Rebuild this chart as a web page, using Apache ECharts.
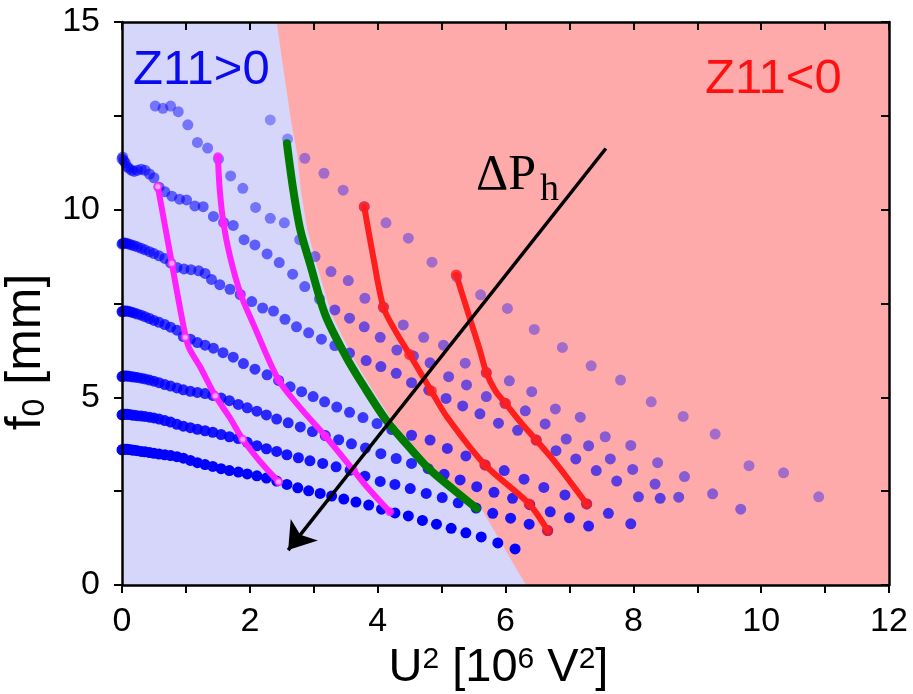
<!DOCTYPE html>
<html>
<head>
<meta charset="utf-8">
<script src="https://cdn.jsdelivr.net/npm/echarts@6.0.0/dist/echarts.min.js"></script>
<style>
  html, body { margin: 0; padding: 0; background: #fff; }
  #chart { width: 913px; height: 694px; }
</style>
</head>
<body>
<div id="chart"></div>
<script>
// measured curves, x = U^2 [10^6 V^2], y = f0 [mm]
const dotsA = [[0,3.60],[0.01,3.61],[0.03,3.62],[0.05,3.62],[0.08,3.62],[0.11,3.61],[0.15,3.60],[0.19,3.59],[0.24,3.58],[0.30,3.56],[0.36,3.55],[0.43,3.53],[0.50,3.51],[0.58,3.49],[0.67,3.47],[0.76,3.45],[0.86,3.42],[0.96,3.38],[1.07,3.32],[1.18,3.26],[1.30,3.21],[1.42,3.16],[1.55,3.10],[1.68,3.05],[1.82,3.01],[1.96,2.96],[2.11,2.91],[2.26,2.85],[2.42,2.77],[2.58,2.68],[2.75,2.59],[2.92,2.51],[3.10,2.44],[3.28,2.37],[3.47,2.29],[3.66,2.21],[3.86,2.13],[4.06,2.02],[4.27,1.92],[4.48,1.84],[4.70,1.72],[4.92,1.62],[5.15,1.51],[5.38,1.39],[5.62,1.28],[5.88,1.12],[6.15,0.96]];
const dotsB = [[0,4.53],[0.01,4.54],[0.03,4.55],[0.05,4.55],[0.08,4.55],[0.11,4.54],[0.15,4.53],[0.19,4.52],[0.24,4.51],[0.30,4.50],[0.36,4.49],[0.43,4.47],[0.50,4.45],[0.58,4.42],[0.67,4.38],[0.76,4.34],[0.86,4.28],[0.96,4.23],[1.07,4.19],[1.18,4.15],[1.30,4.11],[1.42,4.07],[1.55,4.01],[1.68,3.95],[1.82,3.90],[1.96,3.80],[2.11,3.71],[2.26,3.63],[2.42,3.56],[2.58,3.47],[2.76,3.39],[2.94,3.31],[3.14,3.24],[3.35,3.15],[3.57,3.06],[3.80,2.90],[4.04,2.76],[4.27,2.68],[4.51,2.57],[4.76,2.44],[5.01,2.33],[5.26,2.19],[5.54,2.05],[5.80,1.91],[6.08,1.78],[6.37,1.62],[6.66,1.45]];
const dotsC = [[0,5.55],[0.01,5.56],[0.03,5.57],[0.05,5.57],[0.08,5.57],[0.11,5.56],[0.15,5.55],[0.19,5.54],[0.24,5.53],[0.30,5.51],[0.36,5.49],[0.43,5.46],[0.50,5.43],[0.58,5.39],[0.67,5.34],[0.76,5.30],[0.86,5.25],[0.96,5.20],[1.07,5.16],[1.18,5.13],[1.30,5.10],[1.42,5.05],[1.55,4.98],[1.68,4.91],[1.82,4.81],[1.96,4.72],[2.11,4.63],[2.26,4.53],[2.42,4.42],[2.60,4.32],[2.79,4.21],[2.98,4.09],[3.18,3.98],[3.39,3.87],[3.59,3.76],[3.81,3.65],[4.05,3.50],[4.29,3.37],[4.53,3.24],[4.79,3.10],[5.04,2.95],[5.29,2.80],[5.55,2.62],[5.82,2.47],[6.11,2.31],[6.38,2.14],[6.70,1.95],[7.00,1.79],[7.30,1.57]];
const dotsD = [[0,7.28],[0.01,7.29],[0.03,7.30],[0.05,7.30],[0.08,7.30],[0.11,7.29],[0.15,7.27],[0.19,7.25],[0.24,7.22],[0.30,7.19],[0.36,7.15],[0.43,7.10],[0.50,7.05],[0.58,7.00],[0.67,6.94],[0.76,6.87],[0.86,6.79],[0.96,6.62],[1.07,6.55],[1.18,6.46],[1.30,6.39],[1.43,6.31],[1.58,6.19],[1.74,6.07],[1.90,5.90],[2.08,5.75],[2.27,5.60],[2.45,5.45],[2.63,5.28],[2.81,5.15],[2.99,5.02],[3.17,4.88],[3.36,4.74],[3.56,4.60],[3.77,4.46],[3.99,4.30],[4.22,4.14],[4.53,3.99],[4.82,3.86],[5.09,3.64],[5.38,3.44],[5.68,3.20],[5.98,3.05],[6.29,2.82],[6.60,2.60],[6.93,2.40],[7.27,2.16],[7.61,1.91],[7.96,1.63]];
const dotsE = [[0,9.08],[0.01,9.10],[0.03,9.11],[0.05,9.11],[0.08,9.10],[0.11,9.08],[0.15,9.06],[0.19,9.04],[0.24,9.01],[0.30,8.97],[0.36,8.93],[0.43,8.88],[0.50,8.83],[0.58,8.77],[0.67,8.70],[0.76,8.58],[0.86,8.46],[0.97,8.42],[1.08,8.40],[1.20,8.37],[1.30,8.30],[1.40,8.14],[1.53,8.00],[1.69,7.88],[1.85,7.74],[2.03,7.55],[2.20,7.38],[2.37,7.30],[2.55,7.08],[2.73,6.88],[2.92,6.72],[3.12,6.55],[3.33,6.38],[3.56,6.18],[3.82,5.98],[4.05,5.82],[4.29,5.64],[4.53,5.39],[4.80,5.19],[5.07,4.97],[5.33,4.77],[5.60,4.56],[5.89,4.31],[6.19,4.12],[6.48,3.86],[6.79,3.58],[7.10,3.36],[7.42,3.05],[7.74,2.77],[8.08,2.35],[8.42,2.31]];
const dotsF = [[0,11.35],[0.01,11.40],[0.03,11.30],[0.05,11.25],[0.08,11.15],[0.11,11.10],[0.15,11.05],[0.19,11.02],[0.24,11.05],[0.30,11.08],[0.36,11.05],[0.43,10.95],[0.50,10.85],[0.58,10.60],[0.67,10.48],[0.78,10.36],[0.90,10.28],[1.01,10.26],[1.14,10.10],[1.27,10.08],[1.43,9.82],[1.59,9.66],[1.74,9.58],[1.91,9.20],[2.08,9.06],[2.27,8.82],[2.46,8.59],[2.67,8.28],[2.86,7.95],[3.09,7.62],[3.33,7.33],[3.56,7.11],[3.79,6.88],[4.04,6.60],[4.30,6.26],[4.56,6.10],[4.82,5.92],[5.11,5.55],[5.39,5.33],[5.70,5.02],[5.99,4.84],[6.31,4.64],[6.62,4.29],[6.95,3.89],[7.30,3.71],[7.64,3.36],[7.99,3.08],[8.34,2.69],[8.71,2.34]];
const dotsG = [[0.52,12.76],[0.64,12.70],[0.76,12.76],[0.88,12.61],[1.03,12.26],[1.18,11.79],[1.34,11.64],[1.51,11.35],[1.70,10.90],[1.89,10.57],[2.09,10.06],[2.32,9.77],[2.54,9.65],[2.78,9.20],[3.02,8.75],[3.27,8.35],[3.54,8.11],[3.80,7.64],[4.09,7.40],[4.40,6.93],[4.72,6.60],[5.03,6.39],[5.37,5.91],[5.70,5.66],[6.06,5.44],[6.41,5.15],[6.78,4.69],[7.17,4.47],[7.56,3.95],[7.96,3.72],[8.38,3.26],[8.80,2.89],[9.24,2.43],[9.68,2.02]];
const dotsH = [[2.32,12.39],[2.59,11.88],[2.86,11.37],[3.16,10.97],[3.46,10.52],[3.79,10.08],[4.13,9.65],[4.48,9.24],[4.85,8.60],[5.24,8.20],[5.61,7.73],[6.03,7.37],[6.45,6.81],[6.89,6.33],[7.34,5.84],[7.80,5.46],[8.28,4.88],[8.78,4.49],[9.28,4.02],[9.81,3.18],[10.35,2.99],[10.90,2.35]];

// traced curves (path) and their marked points
const magentaLeftPath = [[0.56,10.62],[0.78,8.57],[0.95,7.00],[1.04,6.35],[1.22,5.82],[1.46,5.04],[1.69,4.45],[1.89,3.88],[2.16,3.29],[2.45,2.75]];
const magentaLeftMarks = [[0.56,10.62],[0.78,8.57],[0.99,6.60],[1.46,5.04],[1.89,3.88],[2.45,2.75]];
const magentaRightPath = [[1.50,11.41],[1.53,10.52],[1.59,9.62],[1.69,8.75],[1.86,7.73],[2.05,6.97],[2.45,5.46],[2.80,4.70],[3.18,3.97],[3.62,3.06],[3.83,2.62],[4.19,1.95]];
const magentaRightMarks = [[1.50,11.41],[1.59,9.62],[1.86,7.73],[2.45,5.46],[3.18,3.97],[3.62,3.06],[4.19,1.95]];
const greenPath = [[2.58,11.77],[2.68,10.52],[2.79,9.46],[2.94,8.57],[3.18,7.20],[3.50,6.10],[3.80,5.25],[4.15,4.35],[4.47,3.72],[4.80,3.10],[5.18,2.55],[5.55,2.04]];
const redLeftPath = [[3.79,10.08],[3.93,8.75],[4.09,7.40],[4.27,6.79],[4.50,6.14],[4.84,5.17],[5.08,4.49],[5.68,3.20],[6.37,2.16],[6.66,1.45]];
const redLeftMarks = [[3.79,10.08],[4.09,7.40],[4.50,6.14],[4.84,5.17],[5.68,3.20],[6.37,2.16],[6.66,1.45]];
const redRightPath = [[5.23,8.26],[5.36,7.55],[5.48,6.90],[5.60,6.25],[5.70,5.66],[5.84,5.18],[6.00,4.84],[6.23,4.35],[6.48,3.86],[6.80,3.22],[7.27,2.16]];
const redRightMarks = [[5.23,8.26],[5.70,5.66],[6.00,4.84],[6.48,3.86],[7.27,2.16]];

// boundary of the Z11<0 zone (right side of plot)
const zoneNeg = [[2.42,15],[2.52,13.8],[2.66,12.2],[2.74,11.5],[2.80,10.5],[2.90,9.46],[3.04,8.57],[3.28,7.20],[3.60,6.10],[3.90,5.25],[4.24,4.35],[4.56,3.72],[4.88,3.10],[5.26,2.55],[5.62,2.04],[6.18,0.40],[6.32,0],[12,0],[12,15]];

const arrowFrom = [7.57, 11.63];
const arrowTo = [2.60, 0.93];

const dotCurves = [dotsA, dotsB, dotsC, dotsD, dotsE, dotsF, dotsG, dotsH];
const dotOpacity = [1, 0.9, 0.82, 0.74, 0.64, 0.56, 0.46, 0.36];

const lavender = '#d6d6fa';
const pink = '#ffaaaa';
const magenta = '#ff22ff';
const red = '#ff1e1e';
const font = 'Liberation Sans';

const chart = echarts.init(document.getElementById('chart'), null, { renderer: 'canvas' });

const axisLine = { show: true, onZero: false, lineStyle: { color: '#000', width: 2.5 } };
const tickStyle = { color: '#000', width: 2 };

const series = [];

series.push({
  type: 'custom',
  z: 1,
  silent: true,
  data: [[0, 0]],
  renderItem: (params, api) => ({
    type: 'polygon',
    shape: { points: zoneNeg.map(p => api.coord(p)) },
    style: { fill: pink }
  })
});

dotCurves.forEach((d, i) => {
  series.push({
    type: 'scatter',
    z: 2,
    symbolSize: 11,
    data: d,
    itemStyle: { color: '#0000ff', opacity: dotOpacity[i] }
  });
});

function curve(data, color, width) {
  return {
    type: 'line', z: 3, data: data, smooth: 0.3,
    symbol: 'none', showSymbol: false,
    lineStyle: { color: color, width: width, cap: 'round', join: 'round' }
  };
}
function marks(data, size, fill, border) {
  return {
    type: 'scatter', z: 4, data: data, symbolSize: size,
    itemStyle: border ? { color: fill, borderColor: border, borderWidth: 2 } : { color: fill }
  };
}

series.push(curve(magentaLeftPath, magenta, 6));
series.push(marks(magentaLeftMarks, 7, '#ffc0ff', magenta));
series.push(curve(magentaRightPath, magenta, 6));
series.push(marks(magentaRightMarks, 9, magenta));
series.push(curve(greenPath, '#007a00', 8));
series.push(curve(redLeftPath, red, 6));
series.push(marks(redLeftMarks, 11, red));
series.push(curve(redRightPath, red, 6));
series.push(marks(redRightMarks, 11, red));

series.push({
  type: 'line', z: 5, data: [],
  markLine: {
    silent: true,
    animation: false,
    symbol: ['none', 'arrow'],
    symbolSize: 26,
    label: { show: false },
    lineStyle: { color: '#000', width: 3.5, type: 'solid' },
    data: [[{ coord: arrowFrom }, { coord: arrowTo }]]
  }
});

const option = {
  animation: false,
  backgroundColor: '#fff',
  grid: { left: 122, right: 24, top: 22, bottom: 109, show: true, backgroundColor: lavender, borderWidth: 0,
    containLabel: false, outerBoundsMode: 'none' },
  xAxis: [{
    type: 'value', min: 0, max: 12, interval: 1, position: 'bottom', z: 6,
    axisLine: axisLine,
    axisTick: { show: true, inside: false, length: 8, lineStyle: tickStyle },
    axisLabel: { fontSize: 34, fontFamily: font, color: '#000', margin: 20,
      formatter: v => (v % 2 === 0 ? String(v) : '') },
    splitLine: { show: false },
    name: 'U{sup|2} [10{sup|6} V{sup|2}]',
    nameLocation: 'middle',
    nameGap: 60,
    nameTextStyle: { fontSize: 47, fontFamily: font, color: '#000', padding: [0, 14, 0, 0],
      rich: { sup: { fontSize: 30, fontFamily: font, color: '#000', verticalAlign: 'top' } } }
  }, {
    type: 'value', min: 0, max: 12, interval: 1, position: 'top', z: 6,
    axisLine: axisLine,
    axisTick: { show: true, inside: true, length: 8, lineStyle: tickStyle },
    axisLabel: { show: false },
    splitLine: { show: false }
  }],
  yAxis: [{
    type: 'value', min: 0, max: 15, interval: 2.5, position: 'left', z: 6,
    axisLine: axisLine,
    axisTick: { show: true, inside: false, length: 8, lineStyle: tickStyle },
    axisLabel: { fontSize: 34, fontFamily: font, color: '#000', margin: 22,
      formatter: v => (v % 5 === 0 ? String(v) : '') },
    splitLine: { show: false },
    name: 'f{sub|0} [mm]',
    nameLocation: 'middle',
    nameGap: 47,
    nameTextStyle: { fontSize: 50, fontFamily: font, color: '#000', padding: [0, 97, 0, 0],
      rich: { sub: { fontSize: 32, fontFamily: font, color: '#000', verticalAlign: 'bottom' } } }
  }, {
    type: 'value', min: 0, max: 15, interval: 2.5, position: 'right', z: 6,
    axisLine: axisLine,
    axisTick: { show: true, inside: true, length: 8, lineStyle: tickStyle },
    axisLabel: { show: false },
    splitLine: { show: false }
  }],
  graphic: [
    { type: 'text', left: 133, top: 46, z: 10,
      style: { text: 'Z11>0', fill: '#0a0af0', font: '49px "Liberation Sans"' } },
    { type: 'text', left: 705, top: 55, z: 10,
      style: { text: 'Z11<0', fill: '#ff1010', font: '49px "Liberation Sans"' } },
    { type: 'text', left: 476, top: 151, z: 10,
      style: { text: 'ΔP', fill: '#000', font: '50px "Liberation Serif"' } },
    { type: 'text', left: 540, top: 171, z: 10,
      style: { text: 'h', fill: '#000', font: '38px "Liberation Serif"' } }
  ],
  series: series
};

chart.setOption(option);
</script>
</body>
</html>
